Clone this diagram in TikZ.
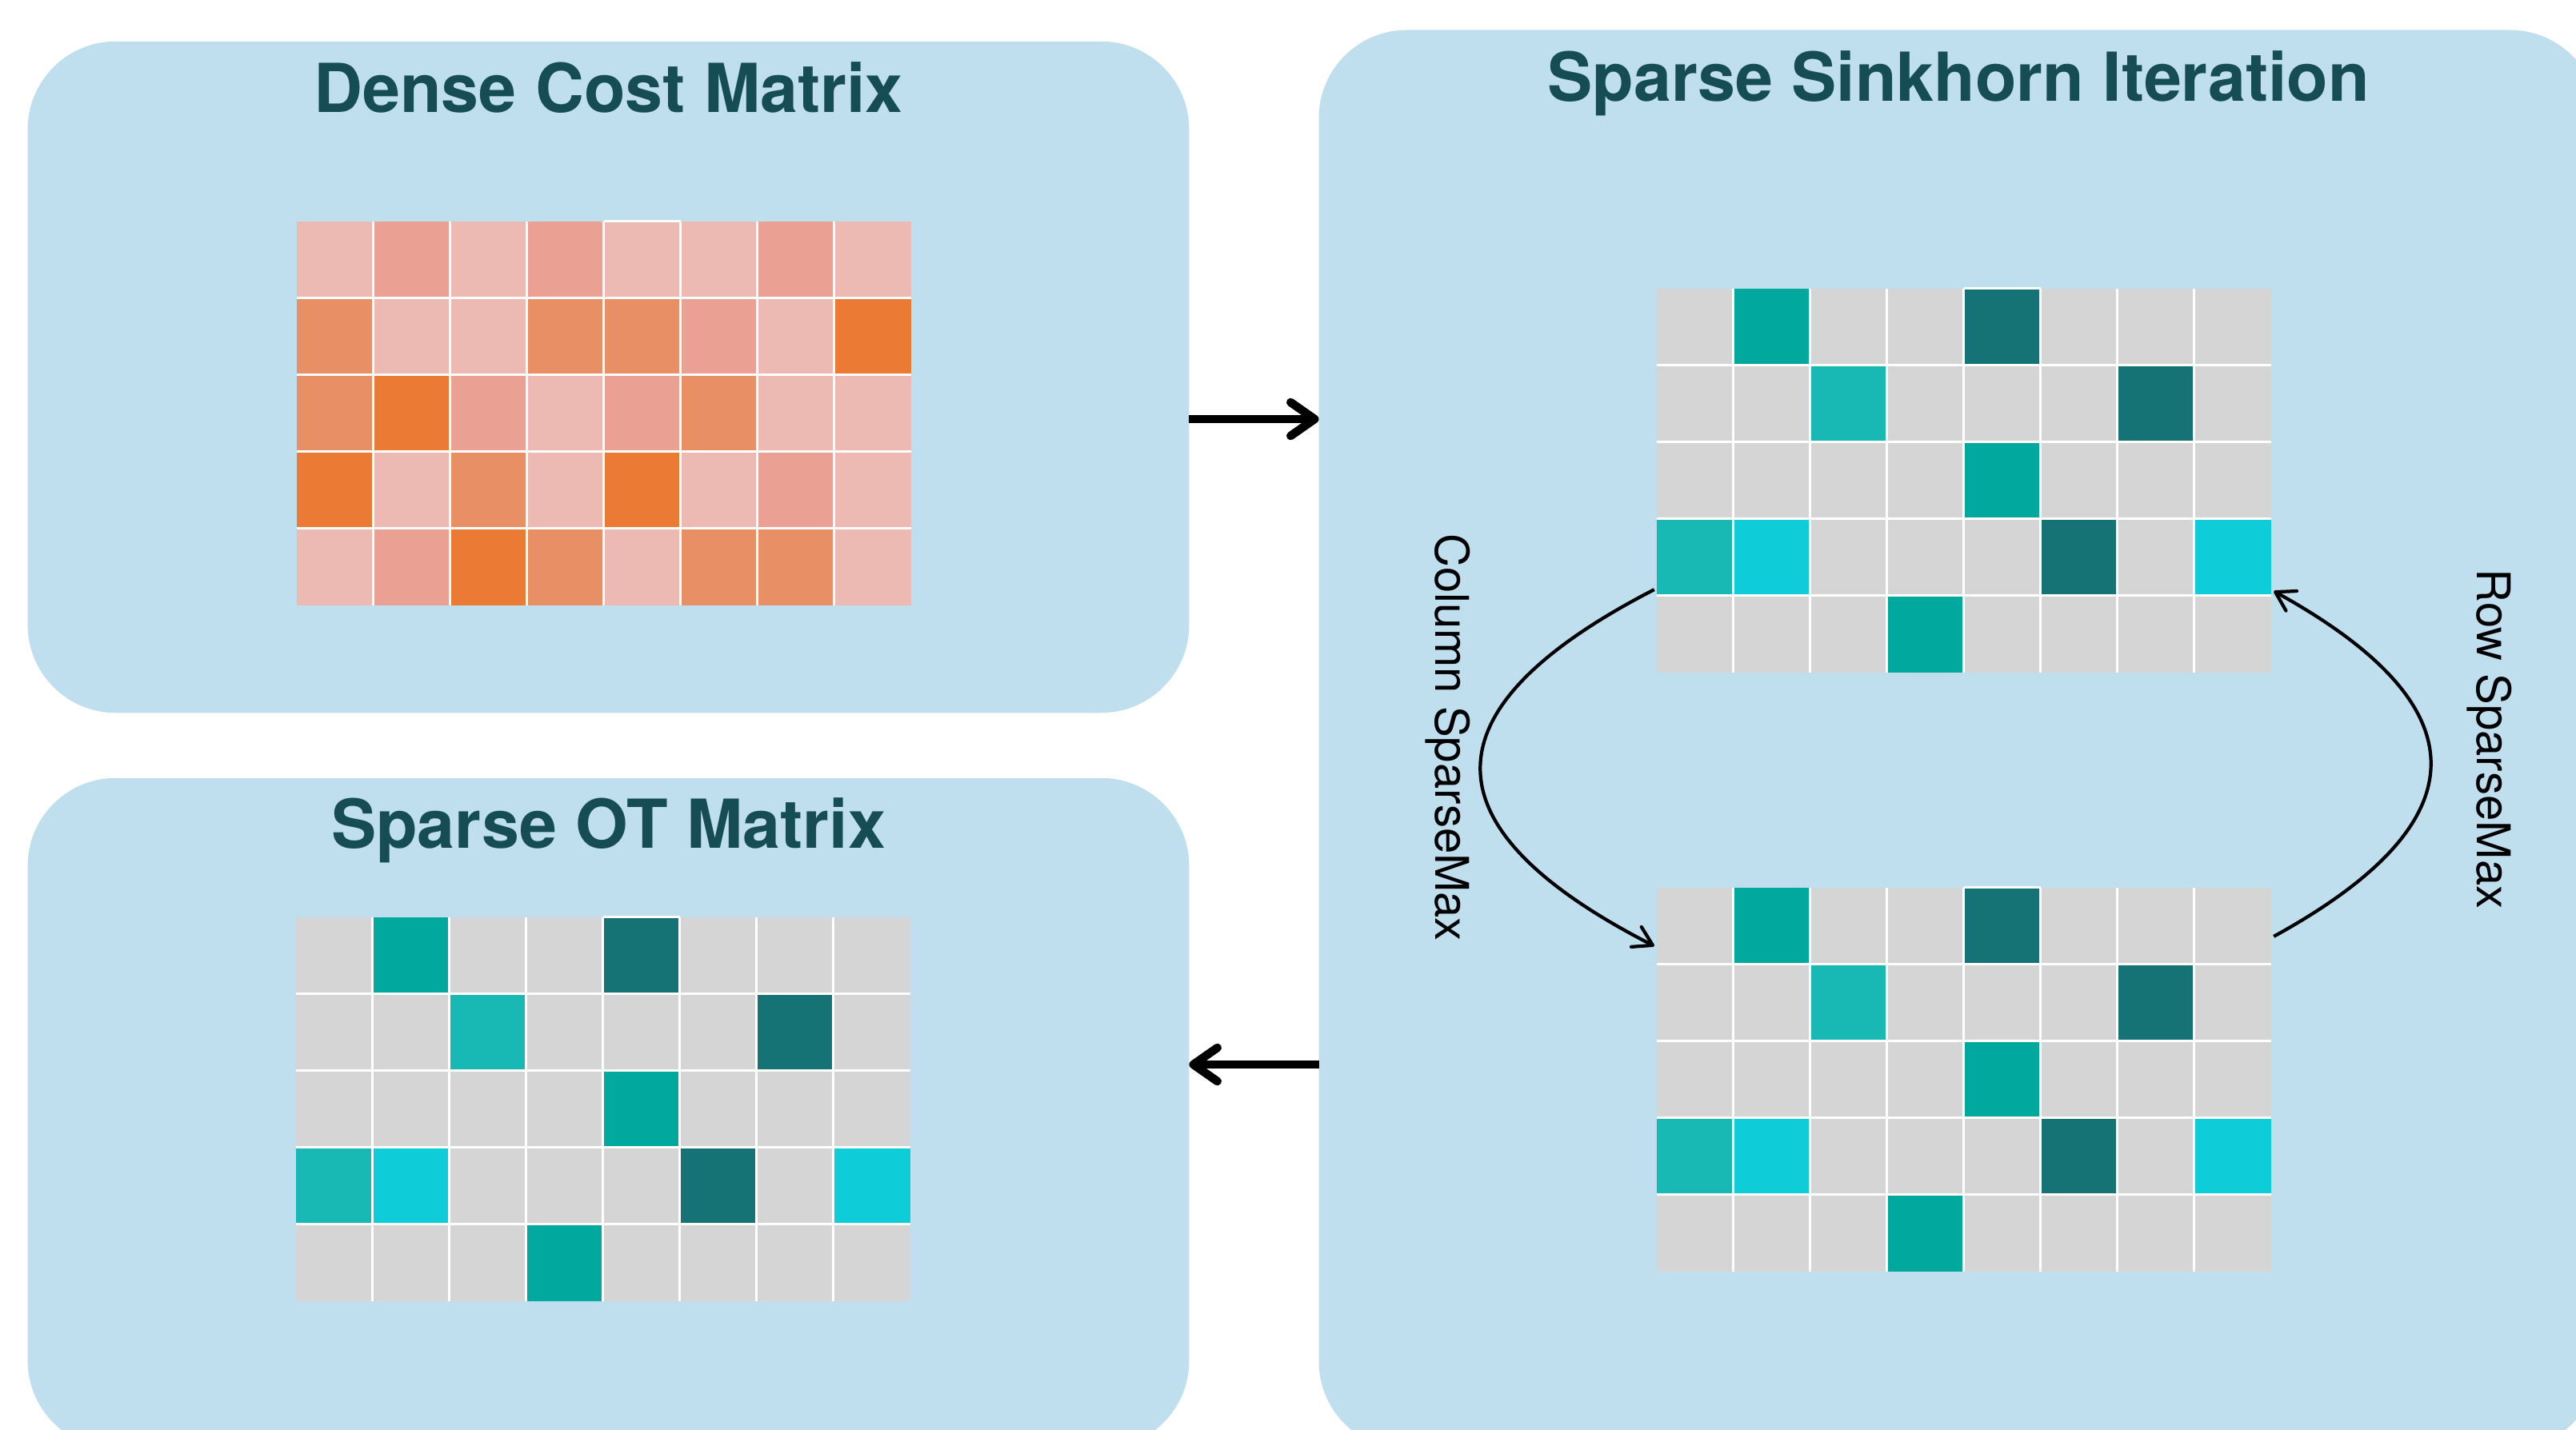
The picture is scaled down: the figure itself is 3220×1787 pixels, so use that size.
\documentclass[tikz,border=0pt]{standalone}
\usepackage{fontspec}
\setmainfont{TeX Gyre Heros}
\usetikzlibrary{arrows.meta}
\usetikzlibrary{calc}
\definecolor{panelblue}{HTML}{BFDEEE}
\definecolor{titleteal}{HTML}{164D54}
\definecolor{costlow}{HTML}{ECB9B3}
\definecolor{costmid}{HTML}{EAA093}
\definecolor{costhigh}{HTML}{E88F66}
\definecolor{costtop}{HTML}{EB7A35}
\definecolor{cellzero}{HTML}{D5D5D5}
\definecolor{cellteal}{HTML}{00A89D}
\definecolor{celldark}{HTML}{167375}
\definecolor{celllight}{HTML}{18B9B4}
\definecolor{cellcyan}{HTML}{0ECDD8}

\newcommand{\densecells}{{costlow,costmid,costlow,costmid,costlow,costlow,costmid,costlow},{costhigh,costlow,costlow,costhigh,costhigh,costmid,costlow,costtop},{costhigh,costtop,costmid,costlow,costmid,costhigh,costlow,costlow},{costtop,costlow,costhigh,costlow,costtop,costlow,costmid,costlow},{costlow,costmid,costtop,costhigh,costlow,costhigh,costhigh,costlow}}
\newcommand{\sparsecells}{{cellzero,cellteal,cellzero,cellzero,celldark,cellzero,cellzero,cellzero},{cellzero,cellzero,celllight,cellzero,cellzero,cellzero,celldark,cellzero},{cellzero,cellzero,cellzero,cellzero,cellteal,cellzero,cellzero,cellzero},{celllight,cellcyan,cellzero,cellzero,cellzero,celldark,cellzero,cellcyan},{cellzero,cellzero,cellzero,cellteal,cellzero,cellzero,cellzero,cellzero}}
\newcommand{\cellgrid}[2]{%
	\foreach \cols [count=\ri from 0] in #2 {
		\foreach \cellcol [count=\ci from 0] in \cols
			\fill[fill=\cellcol] ($(#1.north west)+(\ci*96,\ri*96)$) rectangle +(96,96);
	}
	\foreach \ci in {1,...,7}
		\draw[gridline] ($(#1.north west)+(\ci*96,0)$) -- +(0,480);
	\foreach \ri in {1,...,4}
		\draw[gridline] ($(#1.north west)+(0,\ri*96)$) -- +(768,0);
	\draw[gridline] ($(#1.north west)+(384,0)$) -- +(96,0);
}

\begin{document}
\begin{tikzpicture}[x=0.01cm,y=-0.01cm,
		panel/.style={rectangle,rounded corners=1.1cm,fill=panelblue,inner sep=0pt,outer sep=0pt},
		title/.style={anchor=base,text=titleteal,font=\bfseries\fontsize{24}{28}\selectfont},
		matbox/.style={rectangle,minimum width=7.68cm,minimum height=4.8cm,inner sep=0pt,outer sep=0pt},
		gridline/.style={draw=white,line width=0.85pt},
		flow/.style={-{Straight Barb[length=3mm,width=4.2mm,round]},line width=3pt},
		sweep/.style={-{Straight Barb[length=2.3mm,width=2.8mm,round]},line width=1.2pt},
		sidelabel/.style={rotate=-90,font=\fontsize{16.5}{20}\selectfont}]
	\useasboundingbox (0,0) rectangle (3220,1787);
	\clip (0,0) rectangle (3220,1787);
	\fill[white] (0,0) rectangle (3220,1787);

	\node[panel,minimum width=14.51cm,minimum height=8.39cm] (dense) at (760.5,471.5) {};
	\node[panel,minimum width=14.51cm,minimum height=8.38cm] (ot) at (760.5,1392) {};
	\node[panel,minimum width=15.98cm,minimum height=17.74cm] (sink) at (2448,925) {};

	\node[title] (densetitle) at ($(dense.north)+(0,89)$) {Dense Cost Matrix};
	\node[title] (ottitle) at ($(ot.north)+(0,88)$) {Sparse OT Matrix};
	\node[title] (sinktitle) at ($(sink.north)+(0,89)$) {Sparse Sinkhorn Iteration};

	\node[matbox] (densemat) at (755,517) {};
	\node[matbox] (otmat) at (754,1387) {};
	\node[matbox] (topmat) at (2455,601) {};
	\node[matbox] (botmat) at (2455,1350) {};
	\cellgrid{densemat}{\densecells}
	\cellgrid{otmat}{\sparsecells}
	\cellgrid{topmat}{\sparsecells}
	\cellgrid{botmat}{\sparsecells}

	\coordinate (fwd) at (0,524);
	\coordinate (back) at (0,1331);
	\draw[flow] (dense.east |- fwd) -- (sink.west |- fwd);
	\draw[flow] (sink.west |- back) -- (ot.east |- back);

	\coordinate (colstart) at ($(topmat.south west)+(-3,-104)$);
	\coordinate (colend) at ($(botmat.north west)+(-3,73)$);
	\coordinate (colbend) at ($(topmat.south west)!0.5!(botmat.north west)+(-437,-15)$);
	\coordinate (rowstart) at ($(botmat.north east)+(3,61)$);
	\coordinate (rowend) at ($(topmat.south east)+(3,-102)$);
	\coordinate (rowbend) at ($(topmat.south east)!0.5!(botmat.north east)+(395,-20)$);
	\draw[sweep] (colstart) .. controls ($(colstart)!0.6667!(colbend)$) and ($(colend)!0.6667!(colbend)$) .. (colend);
	\draw[sweep] (rowstart) .. controls ($(rowstart)!0.6667!(rowbend)$) and ($(rowend)!0.6667!(rowbend)$) .. (rowend);
	\node[sidelabel] (collabel) at (1810,922) {Column SparseMax};
	\node[sidelabel] (rowlabel) at (3112,924) {Row SparseMax};
\end{tikzpicture}
\end{document}
